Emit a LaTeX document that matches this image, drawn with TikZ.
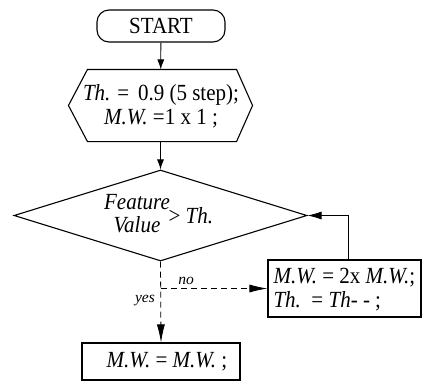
\documentclass[tikz,border=0pt]{standalone}
\usepackage{fontspec}
\usepackage{graphicx}
\setmainfont{Liberation Serif}
\usetikzlibrary{shapes.geometric,arrows.meta,calc}
\newcommand{\vstr}[1]{\scalebox{1}[1.1]{#1}}
\begin{document}
\begin{tikzpicture}[x=1pt,y=-1pt,
  line width=1.1pt,
  every node/.style={font=\fontsize{21}{24}\selectfont, inner sep=0pt},
  arr/.style={-{Latex[length=10pt,width=7pt]}},
  longarr/.style={-{Latex[length=18pt,width=8pt]}},
  midarr/.style={-{Latex[length=14pt,width=8pt]}},
  dsh/.style={dashed, dash pattern=on 6pt off 4pt, line width=0.8pt},
  boxnode/.style={draw, rectangle},
  small/.style={font=\fontsize{15.5}{17}\selectfont\itshape}]
\useasboundingbox (0,0) rectangle (422,381);
% START
\node[boxnode, rounded corners=12pt, minimum width=128pt, minimum height=32pt] (start) at (161,26) {\vstr{START}};
% hexagon (anchor node)
\node[minimum width=183pt, minimum height=71pt] (init) at (160.5,105.5) {};
\draw (init.west) -- ($(init.north west)+(19,0)$) -- ($(init.north east)+(-16,0)$) -- (init.east)
  -- ($(init.south east)+(-16,0)$) -- ($(init.south west)+(19,0)$) -- cycle;
\node (inittxt) at (161,107) {\vstr{\begin{tabular}{@{}c@{}}\textit{Th.} = \,0.9 (5 step);\\[-2pt] \textit{M.W.} =1 x 1 ;\end{tabular}}};
% diamond
\node[draw, diamond, minimum width=293pt, minimum height=91pt, aspect=3.2] (dec) at (160.5,215.5) {};
\node (feat) at (137,216) {\vstr{\begin{tabular}{@{}c@{}}\textit{Feature}\\[-3pt]\textit{Value}\end{tabular}}};
\node[anchor=west] (gt) at (168,216) {\vstr{> \textit{Th.}}};
% right box
\node[boxnode, minimum width=153pt, minimum height=57pt] (upd) at (344.5,288.5) {};
\node[anchor=west] (updtxt) at (273,290) {\vstr{\begin{tabular}{@{}l@{}}\textit{M.W.} = 2x \textit{M.W.};\\[-2pt] \textit{Th.} \,= \textit{Th}- - ;\end{tabular}}};
% bottom box
\node[boxnode, minimum width=158pt, minimum height=37pt] (res) at (161,361.5) {\hspace*{12pt}\vstr{\textit{M.W.} = \textit{M.W.} ;}};
% connectors
\draw[arr, line width=0.8pt] (start) -- (init);
\draw[arr, line width=0.8pt] (init) -- (dec);
\draw[dsh, longarr] (dec.south) -- (res.north);
\coordinate (split) at (dec.south |- upd.west);
\draw[dsh, longarr] (split) -- (upd.west);
\draw[midarr, line width=0.8pt] ($(upd.north)+(3.5,0)$) |- (dec.east);
\node[small] (no) at (186,281) {no};
\node[small] (yes) at (145,301) {yes};
\end{tikzpicture}
\end{document}
